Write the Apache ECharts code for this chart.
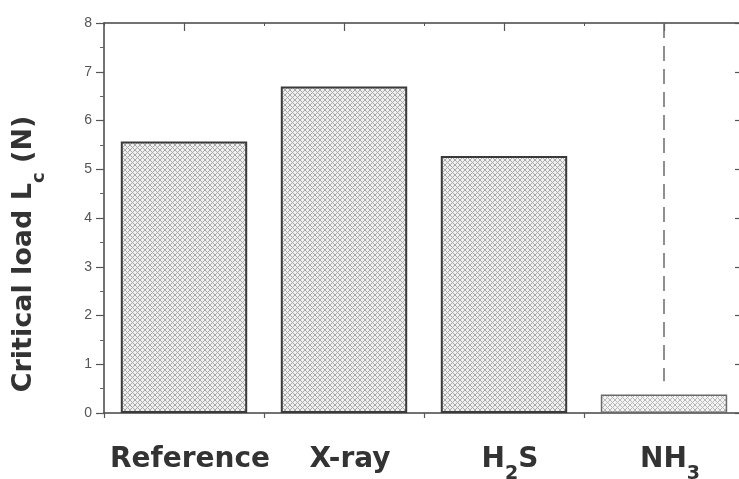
<!DOCTYPE html>
<html>
<head>
<meta charset="utf-8">
<script src="https://cdn.jsdelivr.net/npm/echarts@6/dist/echarts.min.js"></script>
<style>html,body{margin:0;padding:0;background:#fff;}#c{width:739px;height:479px;}</style>
</head>
<body>
<div id="c"></div>
<script>
// ---- data ----
const categories = ['Reference', 'X-ray', 'H2S', 'NH3'];
const categoryLabels = ['Reference', 'X-ray', 'H{sub|2}S', 'NH{sub|3}'];
const criticalLoad = [5.57, 6.70, 5.27, 0.38];
const dashedCategory = 'NH3';
const dashedRange = [8, 0.65];
const yMin = 0, yMax = 8, yStep = 1;

// ---- crosshatch pattern ----
function makePattern(line, bg) {
  const c = document.createElement('canvas');
  c.width = 5; c.height = 5;
  const g = c.getContext('2d');
  g.fillStyle = bg; g.fillRect(0, 0, 5, 5);
  g.strokeStyle = line; g.lineWidth = 1;
  g.beginPath();
  g.moveTo(0, 0); g.lineTo(5, 5);
  g.moveTo(5, 0); g.lineTo(0, 5);
  g.stroke();
  return c;
}
const pat = makePattern('#a9a9a9', '#efefef');
const patLight = makePattern('#b8b8b8', '#f3f3f3');

const chart = echarts.init(document.getElementById('c'), null, {renderer: 'canvas'});
const font = '"Liberation Sans", Arial, sans-serif';
const bigFont = '"DejaVu Sans", "Liberation Sans", sans-serif';

const barData = criticalLoad.map((v, i) => {
  const last = i === criticalLoad.length - 1;
  return {
    value: v,
    itemStyle: {
      color: {image: last ? patLight : pat, repeat: 'repeat'},
      borderColor: last ? '#6a6a6a' : '#3a3a3a',
      borderWidth: last ? 1.5 : 2
    }
  };
});

chart.setOption({
  animation: false,
  backgroundColor: '#ffffff',
  grid: {left: 104, top: 23, width: 640, bottom: 66, containLabel: false, outerBoundsMode: 'none'},
  xAxis: [{
    type: 'category',
    data: categories,
    position: 'bottom',
    axisLine: {lineStyle: {color: '#444', width: 1.5}},
    axisTick: {show: true, interval: 0, length: 5, lineStyle: {color: '#555', width: 1.2}},
    axisLabel: {
      interval: 0,
      margin: 22,
      color: '#333',
      fontFamily: bigFont,
      fontWeight: 'bold',
      fontSize: 28,
      lineHeight: 50,
      padding: [0, 0, 0, 12],
      formatter: (v, i) => categoryLabels[i],
      rich: {sub: {fontSize: 19, lineHeight: 21, fontWeight: 'bold', fontFamily: bigFont, color: '#333', padding: [29, 0, 0, 0]}}
    }
  }, {
    type: 'value',
    position: 'top',
    min: 0, max: 8, interval: 2,
    axisLine: {show: true, onZero: false, lineStyle: {color: '#444', width: 1.5}},
    axisTick: {show: true, inside: true, length: 3, lineStyle: {color: '#555'}},
    minorTick: {show: true, splitNumber: 2, length: 8, lineStyle: {color: '#555', width: 1.2}},
    axisLabel: {show: false},
    splitLine: {show: false}
  }],
  yAxis: [{
    type: 'value',
    min: yMin, max: yMax, interval: yStep,
    position: 'left',
    name: 'Critical load L{sub|c} (N)',
    nameLocation: 'middle',
    nameRotate: 90,
    nameGap: 54,
    nameTextStyle: {
      color: '#333', fontFamily: bigFont, fontWeight: 'bold', fontSize: 27,
      lineHeight: 52,
      padding: [0, 72, 0, 0],
      rich: {sub: {fontSize: 18, lineHeight: 22, fontWeight: 'bold', fontFamily: bigFont, color: '#333', padding: [30, 0, 0, 0]}}
    },
    axisLine: {show: true, onZero: false, lineStyle: {color: '#444', width: 1.5}},
    axisTick: {show: true, length: 8, lineStyle: {color: '#555', width: 1.2}},
    minorTick: {show: true, splitNumber: 2, length: 4, lineStyle: {color: '#666'}},
    axisLabel: {margin: 12, color: '#555', fontFamily: font, fontSize: 14},
    splitLine: {show: false}
  }, {
    type: 'value',
    min: yMin, max: yMax, interval: yStep,
    position: 'right',
    axisLine: {show: true, onZero: false, lineStyle: {color: '#444', width: 1.5}},
    axisTick: {show: true, inside: true, length: 9, lineStyle: {color: '#555', width: 1.2}},
    minorTick: {show: true, splitNumber: 2, length: 5, lineStyle: {color: '#666'}},
    axisLabel: {show: false},
    splitLine: {show: false}
  }],
  series: [{
    type: 'bar',
    xAxisIndex: 0, yAxisIndex: 0,
    data: barData,
    barWidth: '79%'
  }, {
    type: 'line',
    xAxisIndex: 0, yAxisIndex: 0,
    data: dashedRange.map(v => [dashedCategory, v]),
    symbol: 'none',
    lineStyle: {color: '#6a6a6a', width: 1.5, type: [15, 8]},
    silent: true
  }]
});
</script>
</body>
</html>
